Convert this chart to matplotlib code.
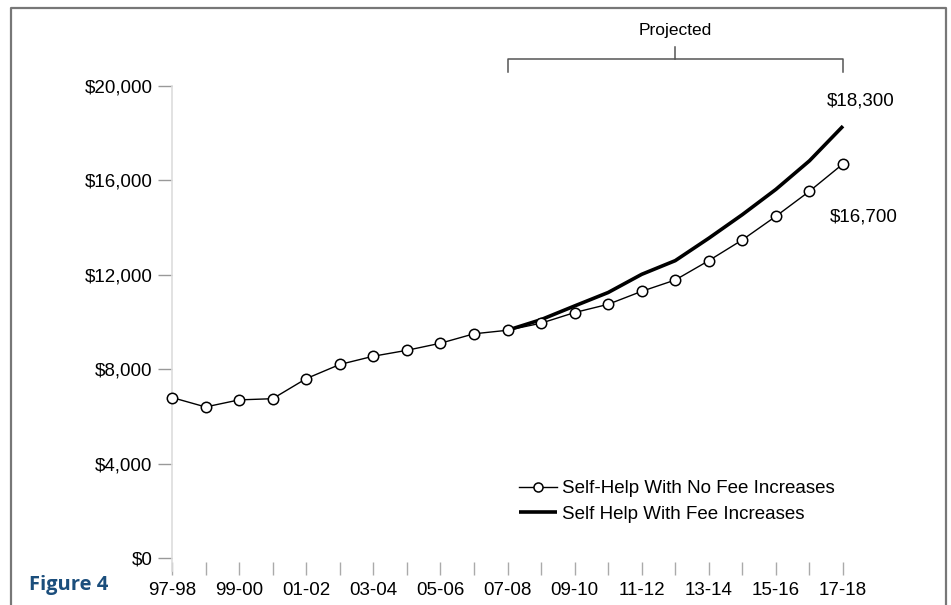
import matplotlib
matplotlib.use("Agg")
import matplotlib.pyplot as plt
from matplotlib.lines import Line2D
import numpy as np

plt.rcParams['font.family'] = ['Liberation Sans', 'DejaVu Sans']

years = ["97-98", "98-99", "99-00", "00-01", "01-02", "02-03", "03-04", "04-05",
         "05-06", "06-07", "07-08", "08-09", "09-10", "10-11", "11-12", "12-13",
         "13-14", "14-15", "15-16", "16-17", "17-18"]
no_fee = [6800, 6400, 6700, 6750, 7600, 8200, 8550, 8800, 9100, 9500, 9650,
          9950, 10400, 10750, 11300, 11780, 12600, 13480, 14480, 15540, 16700]
fee_years = years[10:]
with_fee = [9650, 10100, 10680, 11250, 12020, 12600, 13550, 14550, 15620, 16830, 18300]
yticks = [0, 4000, 8000, 12000, 16000, 20000]
ytick_labels = ["$0", "$4,000", "$8,000", "$12,000", "$16,000", "$20,000"]
end_labels = ["$18,300", "$16,700"]

W, H = 951, 605
fig = plt.figure(figsize=(W / 100, H / 100), dpi=100)
ax = fig.add_axes([172 / W, (H - 558) / H, (843 - 172) / W, (558 - 86) / H])

x = np.arange(len(years))
xf = np.array([years.index(y) for y in fee_years])

ax.plot(xf, with_fee, color='black', lw=2.6, solid_capstyle='butt', zorder=3,
        clip_on=False, label="Self Help With Fee Increases")
ax.plot(x, no_fee, color='black', lw=1.0, marker='o', markersize=7.5,
        markerfacecolor='white', markeredgecolor='black', markeredgewidth=1.1,
        zorder=4, clip_on=False, label="Self-Help With No Fee Increases")

ax.set_xlim(0, 20)
ax.set_ylim(0, 20000)
ax.set_yticks(yticks)
ax.set_yticklabels(ytick_labels)
ax.set_xticks(x)
ax.set_xticklabels([y if i % 2 == 0 else "" for i, y in enumerate(years)])

for s in ['top', 'right', 'bottom']:
    ax.spines[s].set_visible(False)
ax.spines['left'].set_color('#dddddd')
ax.spines['left'].set_linewidth(1.2)
ax.spines['left'].set_bounds(-550, 20000)
ax.tick_params(axis='y', direction='out', length=10, width=1, color='#999999', pad=4,
               labelsize=13.5)
ax.tick_params(axis='x', direction='out', length=9, width=1, color='#aaaaaa', pad=5,
               labelsize=13.5)
ax.spines['bottom'].set_position(('outward', 3))

# legend
handles, labels = ax.get_legend_handles_labels()
leg = ax.legend(handles[::-1], labels[::-1], loc='upper left',
                bbox_to_anchor=((519 - 172) / (843 - 172), (558 - 480) / (558 - 86)),
                frameon=False, fontsize=13.5, handlelength=2.0, handletextpad=0.3,
                labelspacing=0.45, borderaxespad=0, borderpad=0, numpoints=1)
for h in leg.legend_handles:
    if h.get_marker() == 'o':
        h.set_markersize(6.5)

# end labels
ax.annotate(end_labels[0], xy=(20, with_fee[-1]), xytext=(13, 12), textcoords='offset points',
            ha='center', va='bottom', fontsize=13.5, annotation_clip=False)
ax.annotate(end_labels[1], xy=(20, no_fee[-1]), xytext=(15, -32), textcoords='offset points',
            ha='center', va='top', fontsize=13.5, annotation_clip=False)

# projected bracket
trans = ax.get_xaxis_transform()
def fy(py):
    return (558 - py) / (558 - 86)
x0, x1 = years.index("07-08"), years.index("17-18")
xm = (x0 + x1) / 2
ax.plot([x0, x0, x1, x1], [fy(72), fy(59), fy(59), fy(72)], transform=trans,
        color='#555555', lw=1.1, clip_on=False)
ax.plot([xm, xm], [fy(59), fy(47)], transform=trans, color='#555555', lw=1.1, clip_on=False)
ax.text(xm, fy(35), "Projected", transform=trans, ha='center', va='baseline',
        fontsize=12.5, clip_on=False)

# frame
fc = '#777777'
fig.add_artist(Line2D([10.5 / W, 10.5 / W, 945.5 / W, 945.5 / W],
                      [0, (H - 7.5) / H, (H - 7.5) / H, 0],
                      transform=fig.transFigure, color=fc, lw=1.6))

fig.text(29 / W, (H - 585) / H, "Figure 4", fontsize=14.5, fontweight='bold',
         color='#1b4e7c', family=['Open Sans', 'DejaVu Sans'], ha='left', va='center')

fig.savefig("out.png", dpi=100)
